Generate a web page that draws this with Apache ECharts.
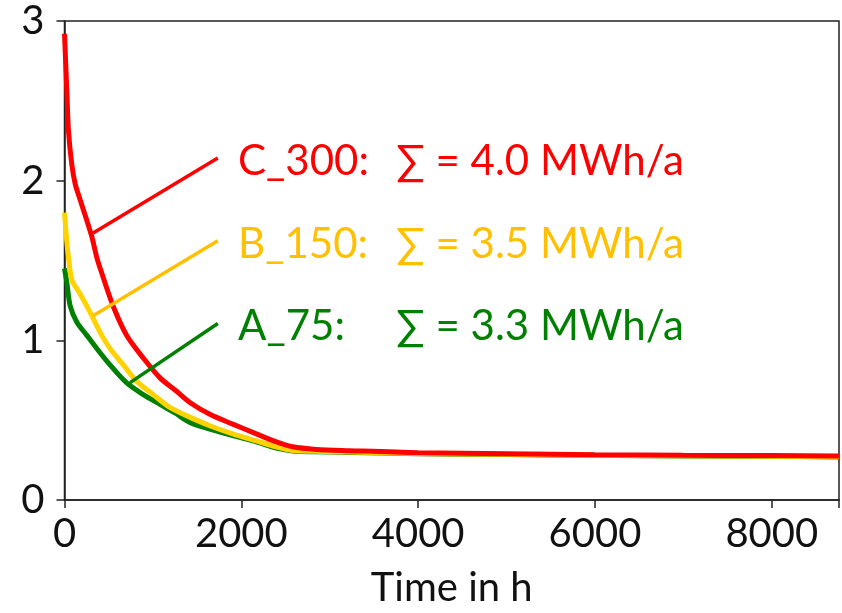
<!DOCTYPE html>
<html>
<head>
<meta charset="utf-8">
<script src="https://cdn.jsdelivr.net/npm/echarts@6/dist/echarts.min.js"></script>
<style>
html,body{margin:0;padding:0;background:#fff;}
#chart{width:842px;height:613px;}
</style>
</head>
<body>
<div id="chart"></div>
<script>
// ---- data ----
var hoursA = [0, 27, 64, 140, 253, 365, 515, 704, 891, 1080, 1250, 1418, 1644, 1903, 2170, 2396, 2580, 2850, 3224, 4000, 5000, 6000, 7000, 8000, 8760];
var valuesA = [1.45, 1.36, 1.216, 1.113, 1.031, 0.949, 0.846, 0.733, 0.660, 0.599, 0.545, 0.486, 0.444, 0.403, 0.364, 0.325, 0.307, 0.302, 0.298, 0.290, 0.285, 0.280, 0.276, 0.273, 0.270];

var hoursB = [0, 27, 45, 83, 177, 290, 403, 515, 666, 817, 1004, 1192, 1418, 1644, 1903, 2170, 2396, 2580, 2850, 3224, 4000, 5000, 6000, 7000, 8000, 8760];
var valuesB = [1.80, 1.61, 1.52, 1.38, 1.29, 1.175, 1.05, 0.949, 0.846, 0.743, 0.660, 0.580, 0.519, 0.465, 0.414, 0.370, 0.333, 0.310, 0.305, 0.301, 0.292, 0.286, 0.281, 0.277, 0.274, 0.272];

var hoursC = [0, 30, 45, 83, 121, 177, 253, 309, 365, 422, 553, 704, 891, 1080, 1268, 1418, 1644, 1903, 2170, 2396, 2580, 2847, 3224, 4000, 5000, 6000, 7000, 8000, 8760];
var valuesC = [2.92, 2.51, 2.31, 2.10, 1.98, 1.88, 1.75, 1.65, 1.52, 1.42, 1.21, 1.03, 0.889, 0.765, 0.681, 0.611, 0.537, 0.475, 0.414, 0.364, 0.333, 0.317, 0.309, 0.296, 0.290, 0.284, 0.280, 0.278, 0.276];

var seriesNames = ['A_75', 'B_150', 'C_300'];
var annotationLabels = ['A_75:', 'B_150:', 'C_300:'];
var annotationSums = ['\u2211 = 3.3 MWh/a', '\u2211 = 3.5 MWh/a', '\u2211 = 4.0 MWh/a'];

// pointer lines from curve to annotation, in data units
var pointerA = [[742, 0.735], [1734, 1.105]];
var pointerB = [[324, 1.154], [1734, 1.623]];
var pointerC = [[324, 1.673], [1734, 2.142]];

var xTicks = [0, 2000, 4000, 6000, 8000];
var yTicks = [0, 1, 2, 3];
var xName = 'Time in h';

// ---- styling ----
var curveColors = ['#008000', '#ffd200', '#ff0000'];
var textColors = ['#008000', '#ffc000', '#ff0000'];
var FONT = 'Lato';

function zip(xs, ys) { return xs.map(function (x, i) { return [x, ys[i]]; }); }

var chart = echarts.init(document.getElementById('chart'), null, {renderer: 'canvas'});

var curveData = [zip(hoursA, valuesA), zip(hoursB, valuesB), zip(hoursC, valuesC)];
var pointers = [pointerA, pointerB, pointerC];

var series = [];
curveData.forEach(function (d, i) {
  series.push({
    name: seriesNames[i], type: 'line', data: d, smooth: 0.3, showSymbol: false,
    lineStyle: {color: curveColors[i], width: 5}, z: 2 + i, animation: false
  });
});
pointers.forEach(function (p, i) {
  series.push({
    name: seriesNames[i] + ' pointer', type: 'line', data: p, showSymbol: false,
    lineStyle: {color: textColors[i], width: 3.5}, z: 10, animation: false
  });
});

var labelY = [327, 245, 162];
var graphic = [];
for (var i = 0; i < 3; i++) {
  graphic.push({type: 'text', left: 238, top: labelY[i] - 22,
    style: {text: annotationLabels[i], fill: textColors[i], font: '42px ' + FONT}});
  graphic.push({type: 'text', left: 396, top: labelY[i] - 22,
    style: {text: annotationSums[i], fill: textColors[i], font: '42px ' + FONT}});
}

chart.setOption({
  animation: false,
  grid: {left: 64.5, right: 2.5, top: 21, bottom: 106, show: true, borderColor: '#222', borderWidth: 1.5, backgroundColor: 'transparent'},
  xAxis: {
    type: 'value', min: 0, max: 8760, interval: 2000,
    name: xName, nameLocation: 'middle', nameGap: 68,
    nameTextStyle: {fontFamily: FONT, fontSize: 40, color: '#111'},
    axisLine: {show: true, onZero: false, lineStyle: {color: '#222', width: 1.5}},
    axisTick: {show: true, inside: false, length: 8, lineStyle: {color: '#222', width: 1.5}},
    axisLabel: {margin: 14, fontFamily: FONT, fontSize: 40, color: '#111',
      formatter: function (v) { return xTicks.indexOf(v) >= 0 ? String(v) : ''; }},
    splitLine: {show: false}
  },
  yAxis: {
    type: 'value', min: 0, max: 3, interval: 1,
    axisLine: {show: true, lineStyle: {color: '#222', width: 1.5}},
    axisTick: {show: true, inside: false, length: 8, lineStyle: {color: '#222', width: 1.5}},
    axisLabel: {margin: 20, fontFamily: FONT, fontSize: 40, color: '#111',
      formatter: function (v) { return yTicks.indexOf(v) >= 0 ? String(v) : ''; }},
    splitLine: {show: false}
  },
  series: series,
  graphic: graphic
});
</script>
</body>
</html>
